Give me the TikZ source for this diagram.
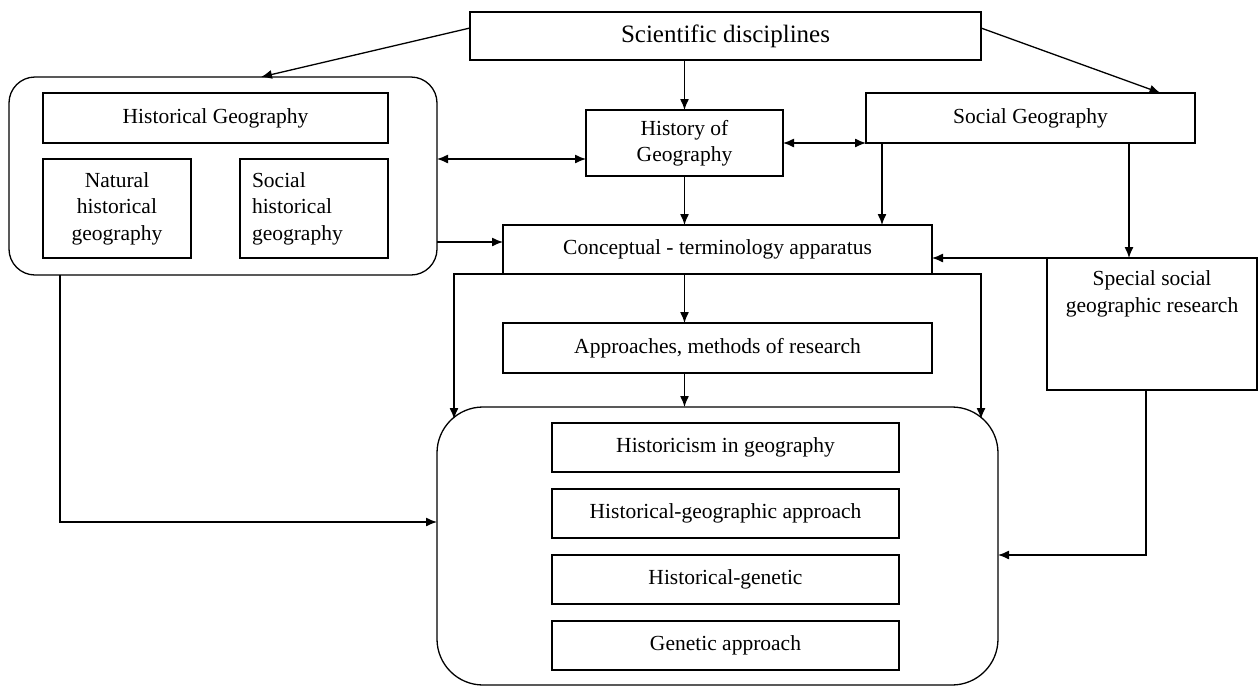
\documentclass[tikz,border=0pt]{standalone}
\usepackage{fontspec}
\setmainfont{Liberation Serif}
\usetikzlibrary{arrows.meta}
\begin{document}
\begin{tikzpicture}[x=1pt,y=-1pt,
  line width=1.3pt,
  box/.style={draw, rectangle, inner sep=0pt, outer sep=0pt, anchor=north west,
    font=\fontsize{21.5}{26.5}\selectfont, align=center},
  grp/.style={draw, rectangle, inner sep=0pt, outer sep=0pt, anchor=north west},
  lbl/.style={inner sep=0pt, font=\fontsize{21.5}{26.5}\selectfont, align=center},
  arr/.style={-{Latex[length=11pt,width=9pt]}},
  darr/.style={{Latex[length=11pt,width=9pt]}-{Latex[length=11pt,width=9pt]}}]
\useasboundingbox (0,0) rectangle (1259,686);

% top
\node[box, minimum width=511pt, minimum height=48pt, font=\fontsize{25}{30}\selectfont] (sci) at (470,12) {Scientific disciplines};

% left group
\node[grp, rounded corners=26pt, minimum width=428pt, minimum height=198pt] (lgrp) at (9,77) {};
\node[box, minimum width=345pt, minimum height=50pt] (hg) at (43,93) {Historical Geography};
\node[box, minimum width=148pt, minimum height=99pt] (nhg) at (43,159) {Natural\\historical\\geography};
\node[box, minimum width=148pt, minimum height=99pt, text width=124pt, inner xsep=12pt, align=left] (shg) at (240,159) {Social\\historical\\geography};

% middle and right
\node[box, minimum width=197pt, minimum height=66pt] (hog) at (586,110) {History of\\Geography};
\node[box, minimum width=329pt, minimum height=50pt] (sg) at (866,93) {Social Geography};
\node[box, minimum width=429pt, minimum height=49pt] (cta) at (503,225) {Conceptual - terminology apparatus};
\node[grp, minimum width=210pt, minimum height=132pt] (ssg) at (1047,258) {};
\node[lbl, anchor=north] (ssgt) at ([yshift=-12pt]ssg.north) {Special social\\geographic research};
\node[box, minimum width=429pt, minimum height=50pt] (amr) at (503,323) {Approaches, methods of research};

% bottom group
\node[grp, rounded corners=46pt, minimum width=561pt, minimum height=278pt] (bgrp) at (437,407) {};
\node[box, minimum width=347pt, minimum height=49pt] (b1) at (552,423) {Historicism in geography};
\node[box, minimum width=347pt, minimum height=49pt] (b2) at (552,489) {Historical-geographic approach};
\node[box, minimum width=347pt, minimum height=49pt] (b3) at (552,555) {Historical-genetic};
\node[box, minimum width=347pt, minimum height=49pt] (b4) at (552,621) {Genetic approach};

% helper coordinates
\coordinate (sgL) at (882,143);
\coordinate (sgR) at (1129,143);
\coordinate (lg2) at (437,242);
\coordinate (lgB) at (60,275);
\coordinate (bgL) at (437,522);
\coordinate (cL) at (454,274);
\coordinate (cLd) at (454,419);
\coordinate (cR) at (981,274);
\coordinate (cRd) at (981,419);
\coordinate (ssB) at (1146,390);
\coordinate (bgR) at (998,555);

% connectors
\draw[arr] ([yshift=8pt]sci.west) -- ([xshift=38pt]lgrp.north);
\draw[arr] ([yshift=8pt]sci.east) -- ([xshift=130pt]sg.north);
\draw[arr] (hog.north |- sci.south) -- (hog.north);
\draw[darr] (lgrp.east |- nhg.north) -- (hog.west |- nhg.north);
\draw[darr] (hog.east |- sg.south) -- (sg.south west);
\draw[arr] (hog.south) -- (hog.south |- cta.north);
\draw[arr] (sgL) -- (sgL |- cta.north);
\draw[arr] (sgR) -- (sgR |- ssg.north);
\draw[arr] (ssg.north west) -- (ssg.north west -| cta.east);
\draw[arr] (lg2) -- (lg2 -| cta.west);
\draw[arr] (lgB) |- (bgL);
\draw[arr] (cta.south west) -- (cL) -- (cLd);
\draw[arr] (cta.south east) -- (cR) -- (cRd);
\draw[arr] (hog.south |- cta.south) -- (hog.south |- amr.north);
\draw[arr] (hog.south |- amr.south) -- (hog.south |- bgrp.north);
\draw[arr] (ssB) |- (bgR);
\end{tikzpicture}
\end{document}
